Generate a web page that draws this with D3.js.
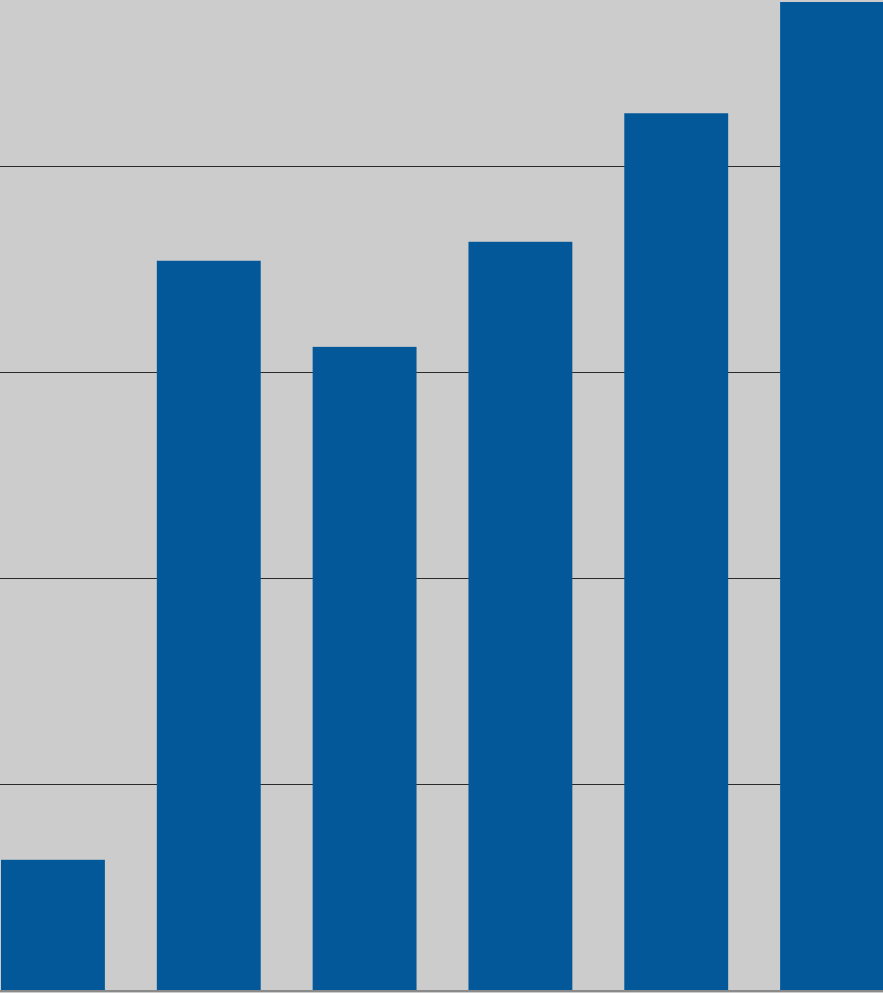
<!DOCTYPE html>
<html>
<head>
<meta charset="utf-8">
<script src="https://cdn.jsdelivr.net/npm/d3@7"></script>
<style>
html,body{margin:0;padding:0;background:#cccccc;overflow:hidden;}
svg{display:block;}
</style>
</head>
<body>
<script>
const categories = ["A","B","C","D","E","F"];
const values = [3.16, 17.70, 15.61, 18.16, 21.28, 23.98];
const gridTicks = [5, 10, 15, 20];

const W = 883, H = 993;
const svg = d3.select("body").append("svg").attr("width", W).attr("height", H);
svg.append("rect").attr("width", W).attr("height", H).attr("fill", "#cccccc");

const x = d3.scaleBand().domain(categories).range([1, 884]).paddingInner(1/3).paddingOuter(0);
const y = d3.scaleLinear().domain([0, 24]).range([990, 1.2]);

svg.append("g").selectAll("line").data(gridTicks).join("line")
  .attr("x1", 0).attr("x2", W)
  .attr("y1", d => Math.round(y(d)) + 0.5).attr("y2", d => Math.round(y(d)) + 0.5)
  .attr("stroke", "#2a2a2a").attr("stroke-width", 1);

svg.append("g").selectAll("rect").data(values).join("rect")
  .attr("x", (d, i) => x(categories[i]))
  .attr("width", x.bandwidth())
  .attr("y", d => y(d))
  .attr("height", d => y(0) - y(d))
  .attr("fill", "#03589a");

svg.append("line").attr("x1", 0).attr("x2", W)
  .attr("y1", y(0) + 1).attr("y2", y(0) + 1)
  .attr("stroke", "#8a8a8a").attr("stroke-width", 2);
</script>
</body>
</html>
